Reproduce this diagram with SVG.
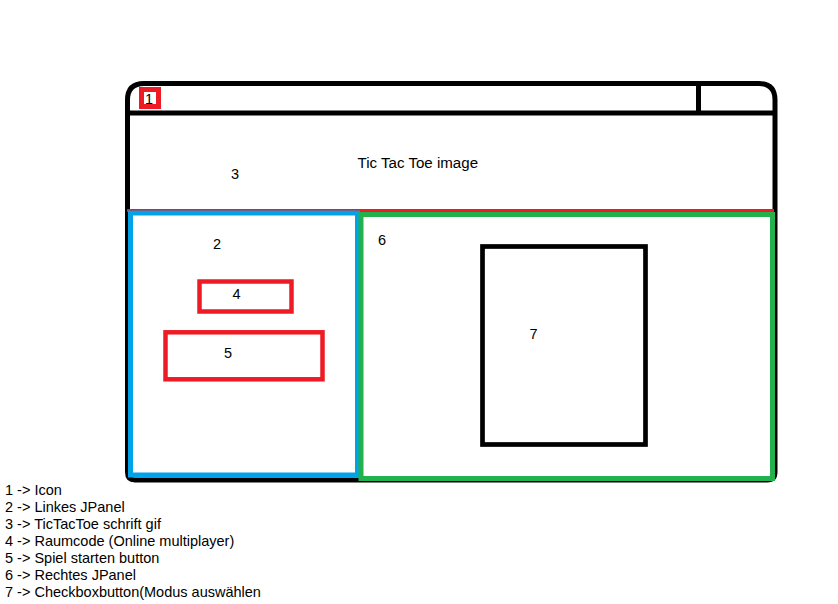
<svg xmlns="http://www.w3.org/2000/svg" width="838" height="604" viewBox="0 0 838 604">
<style>
.t{font-family:"Liberation Sans",Arial,sans-serif;font-size:14.5px;fill:#000}
.blk{fill:none;stroke:#000;stroke-width:5}
.red{fill:none;stroke:#ED1C24}
</style>
<rect width="838" height="604" fill="#fff"/>
<g id="window">
<path class="blk" d="M127.5,100 Q127.5,83.5 144,83.5 L759,83.5 Q775,83.5 775,100 L775,472 Q775,480 767,480 L135,480 Q127.5,480 127.5,472 Z"/>
<line class="blk" x1="127.5" y1="113" x2="777" y2="113"/>
<line class="blk" x1="698.5" y1="83.5" x2="698.5" y2="111"/>
</g>
<g id="node1">
<rect class="red" x="141.5" y="89.5" width="17" height="17" stroke-width="5"/>
<text class="t" x="145" y="104">1</text>
</g>
<g id="node3">
<line x1="127" y1="210.5" x2="774" y2="210.5" stroke="#ED1C24" stroke-width="3"/>
<text class="t" x="231" y="179">3</text>
<text class="t" x="357.5" y="168" style="font-size:15.1px">Tic Tac Toe image</text>
</g>
<g id="node2">
<rect x="130.5" y="213" width="227" height="262" fill="none" stroke="#00A2E8" stroke-width="5"/>
<text class="t" x="213" y="249">2</text>
</g>
<g id="node6">
<rect x="361" y="214.5" width="411.5" height="264" fill="none" stroke="#22B14C" stroke-width="5"/>
<text class="t" x="378" y="245">6</text>
</g>
<g id="node4">
<rect class="red" x="199.5" y="281.5" width="92" height="30" stroke-width="4.5"/>
<text class="t" x="232.5" y="299">4</text>
</g>
<g id="node5">
<rect class="red" x="165.5" y="332.3" width="157" height="47" stroke-width="4.5"/>
<text class="t" x="224" y="358">5</text>
</g>
<g id="node7">
<rect x="482.5" y="246.5" width="163" height="198" fill="none" stroke="#000" stroke-width="4.7"/>
<text class="t" x="529.5" y="339">7</text>
</g>
<g id="connectors"></g>
<g id="legend">
<text class="t" x="5" y="495">1 -&gt; Icon</text>
<text class="t" x="5" y="512">2 -&gt; Linkes JPanel</text>
<text class="t" x="5" y="529">3 -&gt; TicTacToe schrift gif</text>
<text class="t" x="5" y="546">4 -&gt; Raumcode (Online multiplayer)</text>
<text class="t" x="5" y="563">5 -&gt; Spiel starten button</text>
<text class="t" x="5" y="580">6 -&gt; Rechtes JPanel</text>
<text class="t" x="5" y="597">7 -&gt; Checkboxbutton(Modus auswählen</text>
</g>
</svg>
